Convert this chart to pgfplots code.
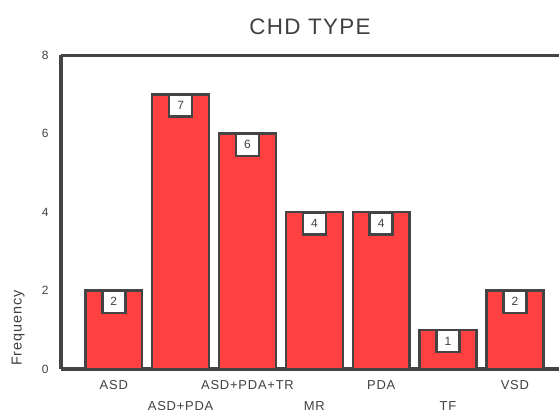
\documentclass[border=0pt]{standalone}
\usepackage{pgfplots}
\pgfplotsset{compat=1.18}
\usepackage{fontspec}
\setmainfont[LetterSpace=6]{Liberation Sans}
\definecolor{barred}{HTML}{FF4040}
\definecolor{edgegray}{HTML}{444444}
\definecolor{txtgray}{HTML}{404040}

\begin{document}
\begin{tikzpicture}
\begin{axis}[
	scale only axis,
	width=498bp, height=314bp,
	xmin=-0.79, xmax=6.66,
	ymin=0, ymax=8,
	axis x line*=bottom,
	axis y line*=left,
	every outer x axis line/.style={-},
	every outer y axis line/.style={-},
	axis line style={edgegray, line width=3bp},
	separate axis lines,
	ytick={0,2,4,6,8},
	xtick={0,1,2,3,4,5,6},
	xticklabels={ASD,{\mbox{}\\[15bp]ASD+PDA},ASD+PDA+TR,{\mbox{}\\[15bp]MR},PDA,{\mbox{}\\[15bp]TF},VSD},
	xticklabel style={align=center, font=\fontsize{13}{15}\selectfont, text=txtgray, anchor=north, yshift=-8bp},
	yticklabel style={font=\fontsize{12}{13}\selectfont, text=txtgray, xshift=-9bp},
	/pgf/number format/assume math mode=true,
	major tick length=0pt,
	ylabel={Frequency},
	ylabel style={font=\fontsize{14.5}{16}\selectfont, text=txtgray, at={(-0.066,0.13)}, anchor=south},
	title={CHD TYPE},
	title style={font=\fontsize{22.5}{26}\selectfont, text=txtgray, at={(0.5,1.035)}, anchor=south},
	ybar, bar width=0.85,
	nodes near coords,
	every node near coord/.append style={anchor=north, draw=edgegray, line width=2.5bp, fill=white,
		minimum width=23bp, minimum height=22bp, inner sep=0pt, text=txtgray, font=\fontsize{12}{14}\selectfont, yshift=1bp},
	clip=false,
]
\addplot[fill=barred, draw=edgegray, line width=2.5bp] coordinates {
	(0,2)(1,7)(2,6)(3,4)(4,4)(5,1)(6,2)
};
\draw[edgegray, line width=3bp] (rel axis cs:0,1) -- (rel axis cs:1,1);
\end{axis}
\pgfresetboundingbox
\path (-61bp,-44bp) rectangle (498bp,369bp);
\end{tikzpicture}
\end{document}
